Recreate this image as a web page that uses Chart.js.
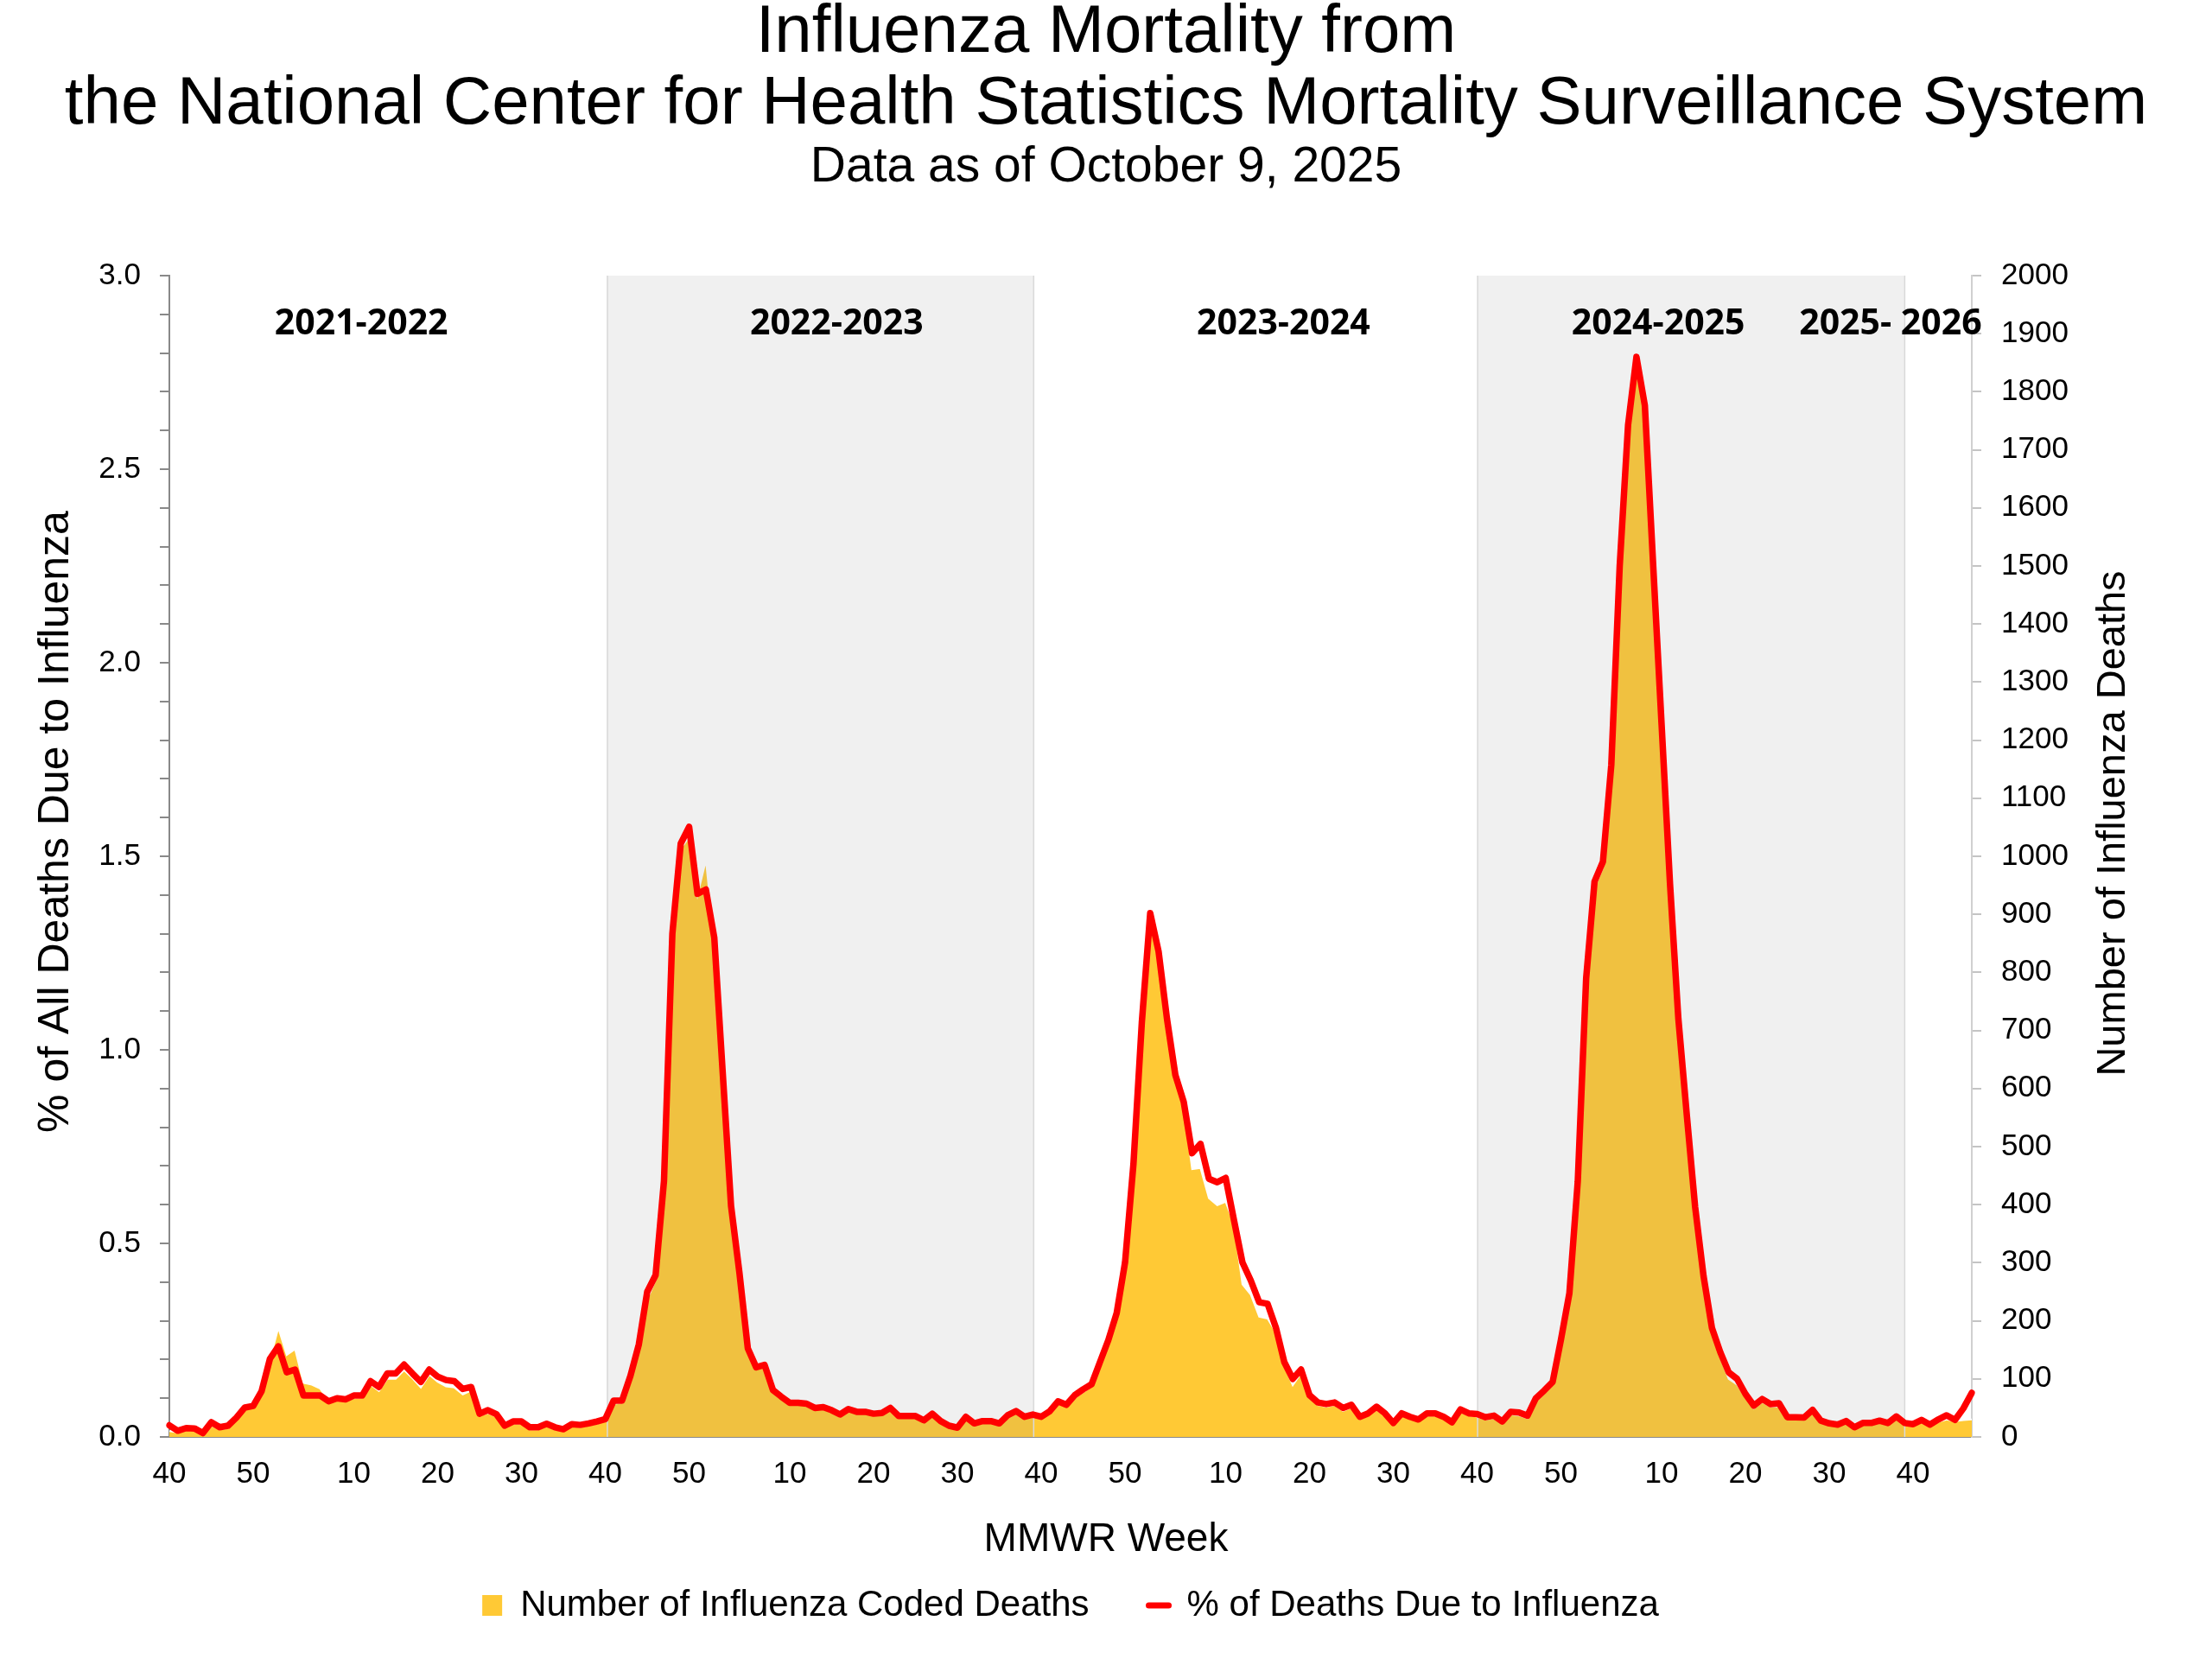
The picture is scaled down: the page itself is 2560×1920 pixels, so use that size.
<!DOCTYPE html>
<html>
<head>
<meta charset="utf-8">
<title>Influenza Mortality</title>
<script src="https://cdn.jsdelivr.net/npm/chart.js@4.4.1/dist/chart.umd.min.js"></script>
<style>
  html, body { margin: 0; padding: 0; background: #ffffff; }
  #wrap { width: 2560px; height: 1920px; }
</style>
</head>
<body>
<div id="wrap"><canvas id="chart" width="2560" height="1920"></canvas></div>
<script>
// ---------------- DATA ----------------
// MMWR week numbers (categories), per season
const weeks2122 = [40,41,42,43,44,45,46,47,48,49,50,51,52,1,2,3,4,5,6,7,8,9,10,11,12,13,14,15,16,17,18,19,20,21,22,23,24,25,26,27,28,29,30,31,32,33,34,35,36,37,38,39];
const weeks2223 = [40,41,42,43,44,45,46,47,48,49,50,51,52,1,2,3,4,5,6,7,8,9,10,11,12,13,14,15,16,17,18,19,20,21,22,23,24,25,26,27,28,29,30,31,32,33,34,35,36,37,38,39];
const weeks2324 = [40,41,42,43,44,45,46,47,48,49,50,51,52,1,2,3,4,5,6,7,8,9,10,11,12,13,14,15,16,17,18,19,20,21,22,23,24,25,26,27,28,29,30,31,32,33,34,35,36,37,38,39];
const weeks2425 = [40,41,42,43,44,45,46,47,48,49,50,51,52,1,2,3,4,5,6,7,8,9,10,11,12,13,14,15,16,17,18,19,20,21,22,23,24,25,26,27,28,29,30,31,32,33,34,35,36,37,38,39];
const weeks2526 = [40,41,42,43,44,45,46,47];

// % of all deaths due to influenza (left axis)
const pct2122 = [0.030,0.016,0.023,0.022,0.010,0.038,0.025,0.029,0.050,0.076,0.080,0.118,0.202,0.234,0.167,0.174,0.107,0.107,0.107,0.092,0.100,0.097,0.107,0.107,0.144,0.129,0.164,0.164,0.187,0.164,0.142,0.174,0.156,0.147,0.144,0.124,0.129,0.060,0.069,0.059,0.029,0.040,0.040,0.025,0.025,0.034,0.025,0.020,0.033,0.031,0.035,0.040];
const pct2223 = [0.046,0.094,0.094,0.158,0.239,0.375,0.418,0.661,1.300,1.533,1.576,1.403,1.414,1.290,0.943,0.597,0.424,0.229,0.180,0.186,0.121,0.104,0.088,0.088,0.086,0.075,0.077,0.069,0.058,0.072,0.065,0.065,0.060,0.062,0.075,0.054,0.054,0.054,0.043,0.060,0.041,0.029,0.024,0.052,0.035,0.041,0.041,0.035,0.056,0.067,0.052,0.058];
const pct2324 = [0.052,0.066,0.092,0.083,0.108,0.123,0.136,0.193,0.250,0.320,0.451,0.705,1.071,1.353,1.254,1.080,0.935,0.865,0.733,0.757,0.667,0.658,0.669,0.559,0.451,0.404,0.348,0.344,0.282,0.193,0.150,0.174,0.108,0.089,0.085,0.089,0.075,0.083,0.052,0.061,0.078,0.061,0.036,0.061,0.052,0.045,0.061,0.061,0.052,0.038,0.071,0.061];
const pct2425 = [0.059,0.051,0.055,0.040,0.065,0.063,0.055,0.100,0.120,0.142,0.252,0.371,0.660,1.185,1.435,1.486,1.736,2.249,2.614,2.790,2.665,2.250,1.840,1.430,1.080,0.833,0.594,0.416,0.282,0.219,0.167,0.150,0.111,0.081,0.098,0.085,0.087,0.051,0.051,0.050,0.070,0.042,0.035,0.032,0.041,0.025,0.036,0.036,0.042,0.036,0.053,0.036];
const pct2526 = [0.033,0.044,0.032,0.045,0.056,0.044,0.074,0.114];

// Number of influenza coded deaths (right axis)
const deaths2122 = [10,8,12,12,4,20,13,15,30,48,51,73,133,188,141,151,93,90,83,61,63,63,67,68,90,79,100,100,115,101,85,107,95,87,85,73,80,37,41,35,16,23,23,13,13,19,13,11,19,17,20,23];
const deaths2223 = [28,57,59,100,153,237,270,433,860,1013,1033,933,993,853,627,393,280,150,117,120,79,67,57,57,55,48,49,44,37,45,41,41,38,39,47,34,34,34,27,37,25,17,14,32,21,25,25,21,35,42,32,36];
const deaths2324 = [32,40,59,52,67,77,87,123,163,210,297,460,707,893,827,713,617,570,461,463,411,399,405,367,263,245,207,204,180,123,89,110,67,55,52,55,45,51,31,37,47,37,21,37,31,27,37,37,31,22,43,37];
const deaths2425 = [35,30,32,23,39,37,32,62,75,90,163,240,433,780,947,980,1147,1487,1733,1853,1767,1493,1220,940,713,547,387,267,180,137,100,90,69,49,60,52,53,31,31,30,43,25,21,19,24,14,21,21,25,21,31,21];
const deaths2526 = [19,25,19,26,30,27,29,30];

// Season header labels
const seasonNames = ['2021-2022','2022-2023','2023-2024','2024-2025','2025- 2026'];

// ---------------- ASSEMBLY ----------------
const weeks = [].concat(weeks2122, weeks2223, weeks2324, weeks2425, weeks2526);
const pctDeaths = [].concat(pct2122, pct2223, pct2324, pct2425, pct2526);
const fluDeaths = [].concat(deaths2122, deaths2223, deaths2324, deaths2425, deaths2526);

// annotation placement (in category-index units)
const seasonLabelAt = [22.9, 79.6, 132.9, 177.6, 205.3];
const shadedSpans = [[52.25, 103.1], [156.05, 207.0]];

const FONT = "'Liberation Sans', Arial, Helvetica, sans-serif";
Chart.defaults.font.family = FONT;
Chart.defaults.color = '#000000';

const shadePlugin = {
  id: 'seasonShade',
  beforeDatasetDraw(chart, args) {
    if (args.index !== 1) return;
    const { ctx, chartArea } = chart;
    const xs = chart.scales.x;
    ctx.save();
    shadedSpans.forEach(([a, b]) => {
      const x1 = xs.getPixelForValue(a);
      const x2 = xs.getPixelForValue(b);
      ctx.fillStyle = 'rgba(140,140,140,0.13)';
      ctx.fillRect(x1, chartArea.top, x2 - x1, chartArea.bottom - chartArea.top);
      ctx.strokeStyle = '#d9d9d9';
      ctx.lineWidth = 1.5;
      ctx.beginPath();
      ctx.moveTo(x1, chartArea.top); ctx.lineTo(x1, chartArea.bottom);
      ctx.moveTo(x2, chartArea.top); ctx.lineTo(x2, chartArea.bottom);
      ctx.stroke();
    });
    ctx.restore();
  }
};

const labelsPlugin = {
  id: 'extraLabels',
  afterDraw(chart) {
    const { ctx, chartArea } = chart;
    const xs = chart.scales.x;
    ctx.save();
    // season headers
    ctx.font = "bold 41px 'Open Sans', 'Liberation Sans', sans-serif";
    ctx.fillStyle = '#000';
    ctx.textAlign = 'center';
    ctx.textBaseline = 'alphabetic';
    seasonNames.forEach((name, i) => {
      ctx.fillText(name, xs.getPixelForValue(seasonLabelAt[i]), chartArea.top + 68);
    });
    // x axis title (centred on the page, as in the original)
    ctx.textBaseline = 'middle';
    ctx.font = '46px ' + FONT;
    ctx.fillText('MMWR Week', chart.width / 2, chartArea.bottom + 119);
    // y axis titles (rotated, reading bottom to top)
    const cy = (chartArea.top + chartArea.bottom) / 2;
    ctx.font = '50px ' + FONT;
    ctx.save();
    ctx.translate(chartArea.left - 131, cy - 40);
    ctx.rotate(-Math.PI / 2);
    ctx.fillText('% of All Deaths Due to Influenza', 0, 0);
    ctx.restore();
    ctx.font = '47px ' + FONT;
    ctx.save();
    ctx.translate(chartArea.right + 164, cy - 38);
    ctx.rotate(-Math.PI / 2);
    ctx.fillText('Number of Influenza Deaths', 0, 0);
    ctx.restore();
    ctx.restore();
  }
};

new Chart(document.getElementById('chart'), {
  type: 'line',
  data: {
    labels: weeks.map(String),
    datasets: [
      {
        label: 'Number of Influenza Coded Deaths',
        data: fluDeaths,
        yAxisID: 'y1',
        fill: 'origin',
        backgroundColor: '#FFC935',
        borderColor: '#ffffff',
        borderWidth: 2,
        pointRadius: 0,
        pointHoverRadius: 0,
        tension: 0,
        order: 2
      },
      {
        label: '% of Deaths Due to Influenza',
        data: pctDeaths,
        yAxisID: 'y',
        fill: false,
        borderColor: '#FF0000',
        backgroundColor: '#FF0000',
        borderWidth: 7.5,
        borderJoinStyle: 'round',
        borderCapStyle: 'round',
        pointRadius: 0,
        pointHoverRadius: 0,
        tension: 0,
        order: 1
      }
    ]
  },
  options: {
    responsive: false,
    devicePixelRatio: 1,
    animation: false,
    events: [],
    layout: { padding: { top: -3, bottom: 31, left: 0, right: 0 } },
    plugins: {
      title: {
        display: true,
        text: ['Influenza Mortality from', 'the National Center for Health Statistics Mortality Surveillance System'],
        color: '#000',
        font: { family: FONT, size: 78, weight: 'normal', lineHeight: 1.064 },
        padding: { top: 0, bottom: 0 }
      },
      subtitle: {
        display: true,
        text: 'Data as of October 9, 2025',
        color: '#000',
        font: { family: FONT, size: 57, weight: 'normal', lineHeight: 1.1 },
        padding: { top: 0, bottom: 93.3 }
      },
      legend: {
        display: true,
        position: 'bottom',
        fullSize: false,
        labels: {
          color: '#000',
          font: { family: FONT, size: 42 },
          padding: 69,
          usePointStyle: true,
          pointStyleWidth: 23,
          boxHeight: 24,
          generateLabels: () => [
            { text: 'Number of Influenza Coded Deaths', fillStyle: '#FFC935', strokeStyle: '#FFC935', lineWidth: 0, pointStyle: 'rect', hidden: false, datasetIndex: 0 },
            { text: '% of Deaths Due to Influenza', fillStyle: '#FF0000', strokeStyle: '#FF0000', lineWidth: 7, lineCap: 'round', pointStyle: 'line', hidden: false, datasetIndex: 1 }
          ]
        }
      },
      tooltip: { enabled: false }
    },
    scales: {
      x: {
        type: 'category',
        grid: { display: false, drawTicks: false },
        border: { display: true, color: '#898989', width: 2 },
        ticks: {
          autoSkip: false,
          maxRotation: 0,
          minRotation: 0,
          padding: 22,
          color: '#000',
          font: { size: 35 },
          callback: (v, i) => (weeks[i] % 10 === 0 ? String(weeks[i]) : '')
        },
        title: { display: false },
        afterFit: (s) => { s.height = 105; }
      },
      y: {
        position: 'left',
        min: 0,
        max: 3,
        ticks: {
          stepSize: 0.1,
          autoSkip: false,
          padding: 22,
          color: '#000',
          font: { size: 35 },
          callback: (v) => (Math.round(v * 10) % 5 === 0 ? Number(v).toFixed(1) : '')
        },
        grid: { drawOnChartArea: false, drawTicks: true, tickLength: 11, color: '#898989', lineWidth: 2 },
        border: { display: true, color: '#898989', width: 2 },
        afterFit: (s) => { s.width = 196; }
      },
      y1: {
        position: 'right',
        min: 0,
        max: 2000,
        ticks: {
          stepSize: 100,
          autoSkip: false,
          padding: 23,
          color: '#000',
          font: { size: 35 },
          callback: (v) => String(v)
        },
        grid: { drawOnChartArea: false, drawTicks: true, tickLength: 11, color: '#c4c4c4', lineWidth: 2 },
        border: { display: true, color: '#d0d0d0', width: 2 },
        afterFit: (s) => { s.width = 278; }
      }
    }
  },
  plugins: [shadePlugin, labelsPlugin]
});
</script>
</body>
</html>
